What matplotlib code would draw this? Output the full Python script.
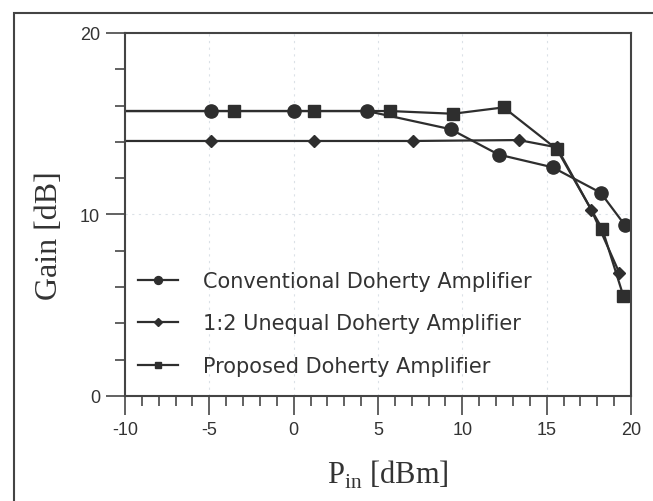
import matplotlib
matplotlib.use("Agg")
import matplotlib.pyplot as plt
from matplotlib.patches import Rectangle
from matplotlib.ticker import MultipleLocator

plt.rcParams["axes.unicode_minus"] = False
plt.rcParams["mathtext.fontset"] = "custom"
plt.rcParams["mathtext.rm"] = "Liberation Serif"

# input power [dBm] and gain [dB]
conv_x = [-10, -4.9, 0.0, 4.35, 9.3, 12.15, 15.35, 18.2, 19.65]
conv_y = [15.7, 15.7, 15.7, 15.7, 14.7, 13.3, 12.6, 11.2, 9.4]

uneq_x = [-10, -4.9, 1.2, 7.05, 13.35, 15.6, 17.65, 19.3]
uneq_y = [14.05, 14.05, 14.05, 14.05, 14.1, 13.7, 10.25, 6.8]

prop_x = [-10, -3.55, 1.2, 5.7, 9.45, 12.45, 15.6, 18.3, 19.55]
prop_y = [15.7, 15.7, 15.7, 15.7, 15.55, 15.9, 13.6, 9.2, 5.5]

labels = ["Conventional Doherty Amplifier",
          "1:2 Unequal Doherty Amplifier",
          "Proposed Doherty Amplifier"]

ink = "#2e2e2e"

fig = plt.figure(figsize=(6.53, 5.02), dpi=100)
ax = fig.add_axes([0.1914, 0.2092, 0.7749, 0.7231])

# outer frame of the scanned figure
fig.patches.append(Rectangle((0.021, -0.05), 1.1, 1.022, transform=fig.transFigure,
                             fill=False, edgecolor="#444444", lw=1.5))

ax.plot(conv_x, conv_y, color=ink, lw=1.6, marker="o", ms=9.5,
        markevery=list(range(1, len(conv_x))), label=labels[0])
ax.plot(uneq_x, uneq_y, color=ink, lw=1.6, marker="D", ms=6.5,
        markevery=list(range(1, len(uneq_x))), label=labels[1])
ax.plot(prop_x, prop_y, color=ink, lw=1.6, marker="s", ms=8,
        markevery=list(range(1, len(prop_x))), label=labels[2])

ax.set_xlim(-10, 20)
ax.set_ylim(0, 20)
ax.xaxis.set_major_locator(MultipleLocator(5))
ax.xaxis.set_minor_locator(MultipleLocator(1))
ax.yaxis.set_major_locator(MultipleLocator(10))
ax.yaxis.set_minor_locator(MultipleLocator(2))
ax.tick_params(which="major", direction="out", length=14, width=1.3, color="#555555",
               labelsize=13, labelcolor="#333333", pad=4)
ax.tick_params(which="minor", direction="out", length=7, width=1.3, color="#555555")
for lab in ax.get_xticklabels() + ax.get_yticklabels():
    lab.set_family("Liberation Sans")

for s in ax.spines.values():
    s.set_color("#444444")
    s.set_linewidth(1.5)

ax.grid(True, which="major", ls=(0, (2, 4)), lw=0.8, color="#c4ced8", alpha=0.6)

ax.set_xlabel(r"P$_{\mathrm{in}}$ [dBm]", family="Liberation Serif", fontsize=22,
              color="#333333")
ax.xaxis.set_label_coords(0.52, -0.17)
ax.set_ylabel("Gain [dB]", family="Liberation Serif", fontsize=23,
              color="#333333")
ax.yaxis.set_label_coords(-0.121, 0.444)

ax.legend(loc="center left", bbox_to_anchor=(0.0093, 0.2), borderaxespad=0,
          frameon=False, prop={"family": "DejaVu Sans", "size": 15}, labelcolor="#333333",
          markerscale=0.6, handlelength=1.92, handletextpad=1.2, labelspacing=1.08)

fig.savefig("out.png", dpi=100)
